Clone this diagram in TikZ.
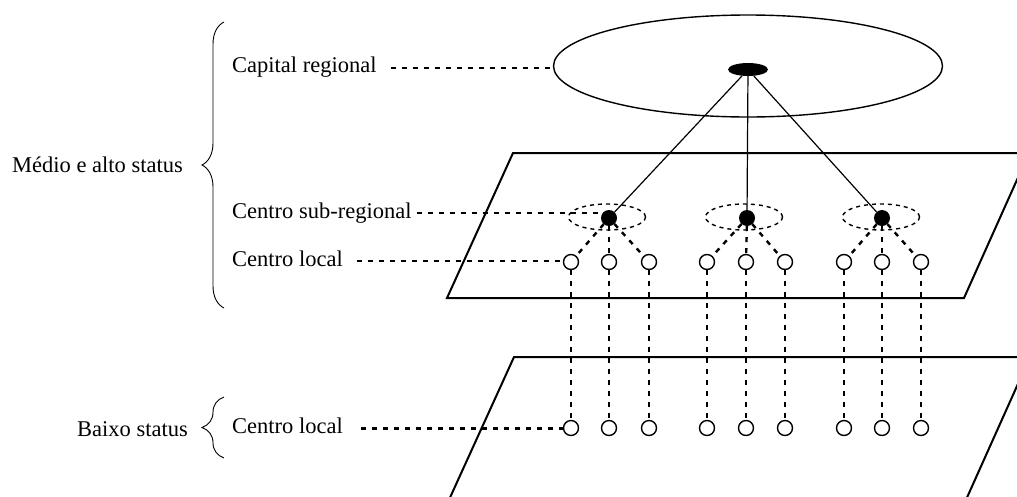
\documentclass[tikz,border=0pt]{standalone}
\usepackage{fontspec}
\setmainfont{Liberation Serif}
\usetikzlibrary{shapes.geometric,decorations.pathreplacing}
\begin{document}
\begin{tikzpicture}[x=1pt,y=-1pt,
  lbl/.style={font=\fontsize{22.5}{27}\selectfont, anchor=west, inner sep=0pt, text height=15pt, text depth=5pt},
  ldash/.style={line width=2.4pt, dash pattern=on 5pt off 6pt},
  plane/.style={line width=2pt, line join=miter},
  opencirc/.style={circle, draw, line width=1.4pt, minimum size=15pt, inner sep=0pt, fill=white},
  fillcirc/.style={circle, fill, minimum size=16pt, inner sep=0pt},
  ring/.style={ellipse, draw, line width=1.4pt, dash pattern=on 4pt off 4pt, minimum width=77pt, minimum height=26pt, inner sep=0pt},
  link/.style={line width=1.2pt},
  bracestyle/.style={decorate, decoration={brace, amplitude=22pt}, line width=0.9pt}]
\path[use as bounding box, clip] (0,0) rectangle (1017,496);
% planes
\draw[plane] (513,153) -- (1029,153) -- (964,298) -- (447,298) -- cycle;
\draw[plane] (514,357) -- (1030,357) -- (965,502) -- (448,502) -- cycle;
% capital
\node[ellipse, draw, line width=1.4pt, minimum width=389pt, minimum height=102pt, inner sep=0pt] (cap) at (748,66) {};
\node[ellipse, fill, minimum width=40pt, minimum height=13pt, inner sep=0pt] (capdot) at (748,69.5) {};
% sub-regional
\node[ring] (ring1) at (607,217) {};
\node[ring] (ring2) at (744,217) {};
\node[ring] (ring3) at (881,217) {};
\node[fillcirc] (sub1) at (609,218) {};
\node[fillcirc] (sub2) at (747,218) {};
\node[fillcirc] (sub3) at (882,218) {};
% local centres
\foreach \i/\x in {1/571,2/609,3/649,4/707,5/746,6/785,7/844,8/882,9/921} {
  \node[opencirc] (u\i) at (\x,262) {};
  \node[opencirc] (l\i) at (\x,428) {};
}
% links
\foreach \s in {1,2,3} \draw[link] (capdot) -- (sub\s);
\draw[ldash] (sub1) -- (u1); \draw[ldash] (sub1) -- (u2); \draw[ldash] (sub1) -- (u3);
\draw[ldash] (sub2) -- (u4); \draw[ldash] (sub2) -- (u5); \draw[ldash] (sub2) -- (u6);
\draw[ldash] (sub3) -- (u7); \draw[ldash] (sub3) -- (u8); \draw[ldash] (sub3) -- (u9);
\foreach \i in {1,...,9} \draw[ldash] (u\i) -- (l\i);
% labels
\node[lbl] (capt) at (232,67.7) {Capital regional};
\node[lbl] (subt) at (232,213) {Centro sub-regional};
\node[lbl] (loct) at (232,261) {Centro local};
\node[lbl] (lowt) at (232,428.5) {Centro local};
\node[lbl] (medt) at (12,167) {Médio e alto status};
\node[lbl] (baixt) at (77,431) {Baixo status};
\draw[ldash, shorten <=14pt] (capt.east) -- (capt.east -| cap.west);
\draw[ldash, shorten <=5pt] (subt.east) -- (subt.east -| sub1.west);
\draw[ldash, shorten <=14pt] (loct.east) -- (loct.east -| u1.west);
\draw[ldash, shorten <=18pt] (lowt.east) -- (lowt.east -| l1.west);
% braces
\draw[bracestyle] (224,308) -- (224,22);
\draw[bracestyle] (224,458) -- (224,397);
\end{tikzpicture}
\end{document}
